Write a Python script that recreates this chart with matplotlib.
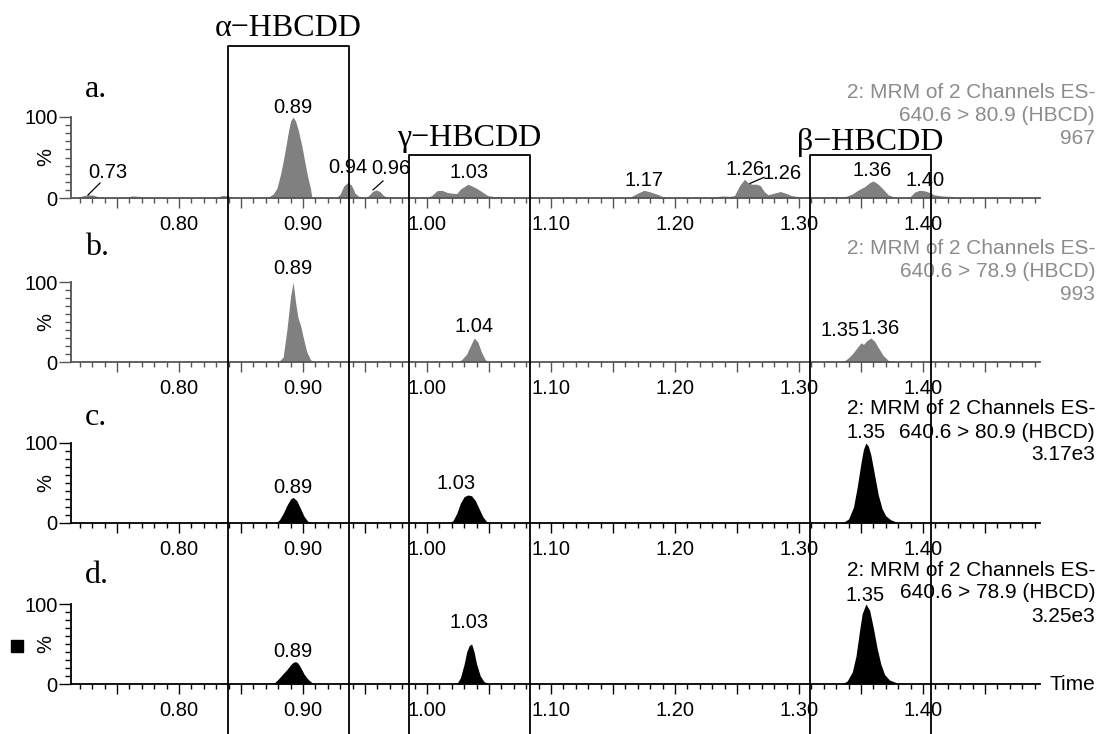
import numpy as np
import matplotlib
matplotlib.use("Agg")
from matplotlib import pyplot as plt
from matplotlib.ticker import FixedLocator, MultipleLocator, FuncFormatter
from matplotlib.patches import Rectangle

plt.rcParams['font.family'] = ['Liberation Sans', 'DejaVu Sans']

W, H = 1105, 734
T_MIN, T_MAX = 0.7129, 1.4944

# chromatogram traces: retention time (min) and relative intensity (%)
t_a = [0.713, 0.719, 0.723, 0.727, 0.731, 0.735, 0.740, 0.750, 0.756, 0.762, 0.768, 0.774, 0.780,
       0.800, 0.820, 0.830, 0.835, 0.840, 0.843, 0.870, 0.873, 0.876, 0.879, 0.882, 0.884, 0.886,
       0.888, 0.890, 0.892, 0.894, 0.896, 0.899, 0.902, 0.904, 0.906, 0.907, 0.910, 0.927, 0.930,
       0.933, 0.936, 0.939, 0.942, 0.945, 0.950, 0.953, 0.956, 0.959, 0.962, 0.965, 0.968, 0.980,
       1.000, 1.004, 1.008, 1.012, 1.016, 1.020, 1.024, 1.027, 1.030, 1.033, 1.036, 1.040, 1.044,
       1.049, 1.055, 1.062, 1.066, 1.100, 1.160, 1.165, 1.170, 1.175, 1.179, 1.183, 1.187, 1.190,
       1.200, 1.230, 1.238, 1.244, 1.248, 1.252, 1.256, 1.259, 1.262, 1.266, 1.269, 1.272, 1.275,
       1.280, 1.285, 1.289, 1.294, 1.300, 1.310, 1.330, 1.338, 1.343, 1.348, 1.353, 1.357, 1.360,
       1.363, 1.366, 1.369, 1.372, 1.377, 1.385, 1.390, 1.393, 1.397, 1.401, 1.405, 1.409, 1.415,
       1.422, 1.428, 1.494]
i_a = [0.5, 0.8, 3, 4, 3.5, 1.5, 1, 0.5, 1, 2.5, 2, 1, 0.5,
       0.3, 0.5, 1, 3, 2.5, 0.5, 0.5, 2, 5, 12, 30, 45, 62,
       80, 95, 100, 95, 85, 65, 40, 25, 12, 2, 0.5, 0.5, 5,
       15, 19, 16, 6, 2, 0.5, 3, 8, 10, 8, 3, 1, 1,
       1, 3, 9, 9.5, 7, 6, 5.5, 11, 14, 17, 15, 12, 8,
       3, 1.5, 1.5, 0.8, 0.5, 0.5, 2, 6, 9.5, 8, 6, 4, 1.5,
       0.5, 1, 2.5, 2, 3, 15, 23, 19, 17, 17, 15, 8, 4,
       6, 8, 6, 3, 1.5, 1.5, 1.5, 2, 5, 10, 14, 19, 21,
       18, 14, 9, 4, 1, 1, 2, 7, 9.5, 9, 7, 4, 2.5,
       2, 0.8, 0.5]

t_b = [0.713, 0.880, 0.884, 0.887, 0.890, 0.892, 0.894, 0.896, 0.898, 0.900, 0.903, 0.906, 0.909,
       1.025, 1.028, 1.032, 1.035, 1.038, 1.041, 1.044, 1.047, 1.050,
       1.335, 1.339, 1.343, 1.347, 1.350, 1.352, 1.355, 1.358, 1.361, 1.364, 1.368, 1.372, 1.376, 1.494]
i_b = [0, 0, 6, 40, 82, 100, 75, 55, 46, 32, 13, 3, 0,
       0, 3, 10, 20, 30, 25, 12, 3, 0,
       0, 4, 10, 18, 24, 22, 27, 30, 26, 18, 8, 2, 0, 0]

t_c = [0.713, 0.830, 0.834, 0.838, 0.842, 0.878, 0.881, 0.884, 0.887, 0.890, 0.892, 0.895, 0.898,
       0.901, 0.904, 0.907, 1.018, 1.021, 1.024, 1.027, 1.030, 1.033, 1.036, 1.039, 1.042, 1.045,
       1.048, 1.052, 1.335, 1.340, 1.344, 1.347, 1.350, 1.352, 1.354, 1.356, 1.358, 1.361, 1.364,
       1.367, 1.370, 1.374, 1.380, 1.384, 1.494]
i_c = [0, 0, 1.5, 1, 0, 0, 4, 12, 22, 30, 32, 28, 18,
       8, 2, 0, 0, 3, 12, 25, 33, 35, 34, 28, 18, 8,
       2, 0, 0, 5, 20, 45, 75, 92, 100, 96, 85, 60, 35,
       18, 9, 4, 0.5, 0, 0]

t_d = [0.713, 0.876, 0.880, 0.884, 0.887, 0.890, 0.892, 0.894, 0.896, 0.898, 0.901, 0.904, 0.907,
       0.910, 1.024, 1.027, 1.030, 1.032, 1.034, 1.036, 1.038, 1.040, 1.043, 1.046, 1.050,
       1.335, 1.339, 1.343, 1.346, 1.349, 1.351, 1.354, 1.357, 1.360, 1.363, 1.366, 1.369, 1.373,
       1.378, 1.382, 1.494]
i_d = [0, 0, 6, 13, 18, 24, 27, 28, 26, 21, 12, 6, 2,
       0, 0, 8, 25, 40, 48, 50, 40, 25, 10, 3, 0,
       0, 4, 15, 35, 68, 88, 100, 92, 70, 45, 25, 12, 5,
       2, 0, 0]

# peak labels: text, time, height (%)
lab_a = ["0.73", "0.89", "0.94", "0.96", "1.03", "1.17", "1.26", "1.26", "1.36", "1.40"]
lab_a_t = [0.7425, 0.892, 0.936, 0.971, 1.034, 1.1754, 1.2565, 1.2867, 1.3593, 1.4016]
lab_a_y = [32, 112, 38, 37, 31, 21, 35, 30, 34, 22]
lab_b = ["0.89", "1.04", "1.35", "1.36"]
lab_b_t = [0.892, 1.038, 1.3335, 1.3655]
lab_b_y = [117, 45, 40, 42]
lab_c = ["0.89", "1.03", "1.35"]
lab_c_t = [0.892, 1.0235, 1.354]
lab_c_y = [44, 49, 113]
lab_d = ["0.89", "1.03", "1.35"]
lab_d_t = [0.892, 1.034, 1.3536]
lab_d_y = [41, 77, 111]

# leader lines (panel a): (t0, y0, t1, y1)
leaders_a = [(0.7266, 3.7, 0.7363, 18.5), (0.9565, 10, 0.9645, 21), (1.2605, 18, 1.2718, 25.5)]

headers = [["2: MRM of 2 Channels ES-", "640.6 > 80.9 (HBCD)", "967"],
           ["2: MRM of 2 Channels ES-", "640.6 > 78.9 (HBCD)", "993"],
           ["2: MRM of 2 Channels ES-", "640.6 > 80.9 (HBCD)", "3.17e3"],
           ["2: MRM of 2 Channels ES-", "640.6 > 78.9 (HBCD)", "3.25e3"]]
letters = ["a.", "b.", "c.", "d."]

# isomer boxes: name, left, right (min)
iso_names = ["\u03b1\u2212HBCDD", "\u03b3\u2212HBCDD", "\u03b2\u2212HBCDD"]
iso_left = [0.8395, 0.9855, 1.309]
iso_right = [0.937, 1.083, 1.4065]

# layout in pixels
base_px = [198, 362, 523, 684]
top_px = [117, 282, 443, 604]
header_px = [92.5, 248, 409, 570]
letter_px = [97, 255, 425, 583]
box_top_px = [46, 155, 155]
iso_base_px = [36, 146, 150]

trace_t = [t_a, t_b, t_c, t_d]
trace_i = [i_a, i_b, i_c, i_d]
labs = [(lab_a, lab_a_t, lab_a_y), (lab_b, lab_b_t, lab_b_y),
        (lab_c, lab_c_t, lab_c_y), (lab_d, lab_d_t, lab_d_y)]
fill_col = ["#808080", "#808080", "black", "black"]
axis_col = ["#555555", "#555555", "black", "black"]
head_col = ["#8c8c8c", "#8c8c8c", "black", "black"]

fig = plt.figure(figsize=(W / 100, H / 100), dpi=100)
left = 71 / W
width = (1040 - 71) / W


def fy(py):
    return 1 - py / H


def xfmt(v, pos):
    k = round(v * 100)
    return "%.2f" % v if k % 10 == 0 else ""


for k in range(4):
    ax = fig.add_axes([left, fy(base_px[k]), width, (base_px[k] - top_px[k]) / H])
    ax.set_facecolor("none")
    ax.fill_between(trace_t[k], trace_i[k], 0, color=fill_col[k], lw=0)
    ax.set_xlim(T_MIN, T_MAX)
    ax.set_ylim(0, 100)
    for s in ["top", "right"]:
        ax.spines[s].set_visible(False)
    for s in ["left", "bottom"]:
        ax.spines[s].set_color(axis_col[k])
        ax.spines[s].set_linewidth(1.3)
    ax.xaxis.set_major_locator(MultipleLocator(0.05))
    ax.xaxis.set_minor_locator(MultipleLocator(0.01))
    ax.xaxis.set_major_formatter(FuncFormatter(xfmt))
    ax.yaxis.set_major_locator(FixedLocator([0, 100]))
    ax.yaxis.set_minor_locator(MultipleLocator(10))
    ax.tick_params(axis="x", which="major", direction="out", length=7, width=1,
                   color=axis_col[k], labelsize=14.5, pad=5)
    ax.tick_params(axis="x", which="minor", direction="out", length=3.5, width=1, color=axis_col[k])
    ax.tick_params(axis="y", which="major", direction="out", length=9, width=1,
                   color=axis_col[k], labelsize=14.5, pad=0.5)
    ax.tick_params(axis="y", which="minor", direction="out", length=4, width=1, color=axis_col[k])
    ax.set_ylabel("%", fontsize=14.5, rotation=90)
    ax.yaxis.set_label_coords(-16 / (1040 - 71), 0.5)

    txt, tt, yy = labs[k]
    for s, t, y in zip(txt, tt, yy):
        ax.text(t, y, s, ha="center", va="center", fontsize=14.5, clip_on=False)
    if k == 0:
        for t0, y0, t1, y1 in leaders_a:
            ax.plot([t0, t1], [y0, y1], color="black", lw=0.9, clip_on=False)

    fig.text(85 / W, fy(letter_px[k]), letters[k], ha="left", va="baseline",
             fontsize=23, family="Liberation Serif")

fig.text(1050 / W, fy(685), "Time", ha="left", va="center", fontsize=15)
fig.add_artist(Rectangle((11 / W, fy(652)), 12 / W, 12 / H, transform=fig.transFigure,
                         color="black"))

# overlay for the isomer boxes, in time units horizontally and pixels vertically
ov = fig.add_axes([left, 0, width, 1])
ov.set_xlim(T_MIN, T_MAX)
ov.set_ylim(H, 0)
ov.axis("off")
for k in range(4):
    for j, line in enumerate(headers[k]):
        ov.text(1095 / W, fy(header_px[k] + 23 * j), line, ha="right", va="center",
                fontsize=15, color=head_col[k], transform=fig.transFigure, zorder=3)
for name, l, r, top, yb in zip(iso_names, iso_left, iso_right, box_top_px, iso_base_px):
    ov.plot([l, l, r, r], [H, top, top, H], color="black", lw=1.3, clip_on=False, zorder=5)
    ov.text((l + r) / 2, yb, name, ha="center", va="baseline", fontsize=23,
            family="Liberation Serif")

fig.savefig("out.png", dpi=100)
